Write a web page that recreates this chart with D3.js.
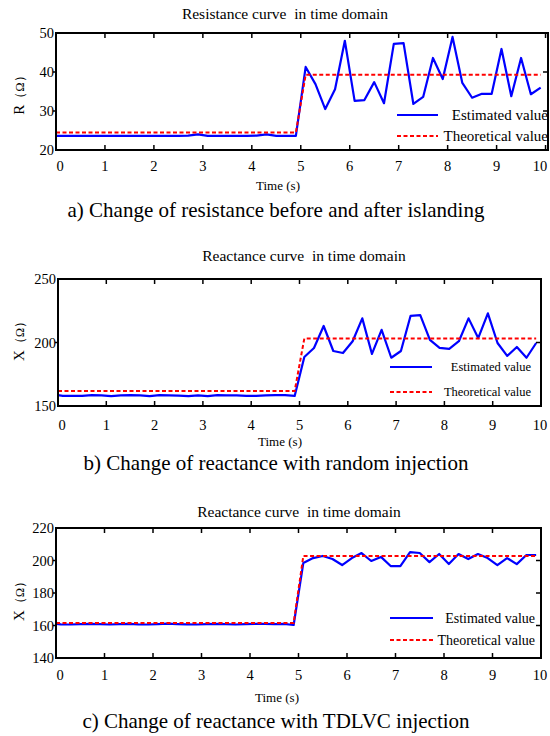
<!DOCTYPE html>
<html><head><meta charset="utf-8">
<script src="https://cdn.jsdelivr.net/npm/d3@7"></script>
<style>body{margin:0;background:#fff}svg{display:block}</style>
</head><body>
<svg id="c" width="550" height="736"></svg>
<script>
// ---------- data ----------
const times = [0,0.1,0.3,0.5,0.7,0.9,1.1,1.3,1.5,1.7,1.9,2.1,2.3,2.5,2.7,2.9,3.1,3.3,3.5,3.7,3.9,4.1,4.3,4.5,4.7,4.9,
  5.1,5.3,5.5,5.7,5.9,6.1,6.3,6.5,6.7,6.9,7.1,7.3,7.5,7.7,7.9,8.1,8.3,8.5,8.7,8.9,9.1,9.3,9.5,9.7,9.9];
const theoTimes = [0,4.9,5.1,9.9];

const resEstimated = [23.6,23.6,23.6,23.6,23.6,23.6,23.6,23.6,23.6,23.6,23.6,23.6,23.6,23.6,23.7,24.0,23.6,23.6,23.6,23.6,23.6,23.7,24.0,23.6,23.6,23.6,
  41.3,36.9,30.5,35.6,48.0,32.6,32.8,37.4,32.0,47.2,47.4,31.8,33.6,43.6,38.2,49.0,37.2,33.4,34.4,34.4,45.9,33.8,43.6,34.3,36.0];
const resTheoretical = [24.5,24.5,39.3,39.3];

const reacRandomEstimated = [158.5,158.0,157.9,158.0,158.6,158.4,157.8,158.3,158.5,158.4,157.8,158.5,158.4,158.2,157.8,158.4,157.8,158.5,158.4,158.3,157.9,157.9,158.4,158.6,158.5,157.9,
  188.6,195.7,213.0,193.3,191.7,201.0,219.0,191.0,210.0,188.0,193.3,221.0,221.6,202.0,195.7,195.0,201.0,219.0,203.5,223.0,199.6,189.4,196.5,188.0,199.6];
const reacRandomTheoretical = [161.8,161.8,203.2,203.2];

const reacTdlvcEstimated = [161.0,160.7,160.6,160.9,161.0,160.8,160.6,160.9,161.0,160.7,160.6,160.9,161.1,160.9,160.7,160.6,160.9,161.0,160.8,160.6,160.8,161.0,161.0,160.9,161.0,160.3,
  198.5,201.5,202.8,200.9,197.2,201.5,204.6,199.7,202.2,196.6,196.6,205.2,204.6,199.0,204.0,197.8,204.0,200.9,204.0,201.5,197.2,201.5,197.8,203.4,203.4];
const reacTdlvcTheoretical = [161.6,161.6,202.8,202.8];

const xTicks = [0,1,2,3,4,5,6,7,8,9,10];
const resTicks = [20,30,40,50];
const reacRandomTicks = [150,200,250];
const reacTdlvcTicks = [140,160,180,200,220];
const legendLabels = ["Estimated value","Theoretical value"];

// ---------- drawing ----------
const svg = d3.select("#c");
const SERIF = "'Liberation Serif','Times New Roman',serif";

const panels = [
  {title:"Resistance curve  in time domain", ylab:"R", est:resEstimated, theo:resTheoretical,
   yDomain:[20,50], yTicks:resTicks, caption:"a) Change of resistance before and after islanding",
   L:56, R:548, xMax:10.05, T:33, B:150, titleX:285, titleY:19, tickY:171, timeX:278, timeY:190, capY:217, ylabY:92,
   leg:{x1:397,x2:438,y1:115,y2:136,tx:548,fs:15}},
  {title:"Reactance curve  in time domain", ylab:"X", est:reacRandomEstimated, theo:reacRandomTheoretical,
   yDomain:[150,250], yTicks:reacRandomTicks, caption:"b) Change of reactance with random injection",
   L:58, R:541, xMax:10, T:279, B:406, titleX:304, titleY:261, tickY:430, timeX:280, timeY:446, capY:470, ylabY:338,
   leg:{x1:390,x2:432,y1:367,y2:392,tx:531,fs:12.5}},
  {title:"Reactance curve  in time domain", ylab:"X", est:reacTdlvcEstimated, theo:reacTdlvcTheoretical,
   yDomain:[140,220], yTicks:reacTdlvcTicks, caption:"c) Change of reactance with TDLVC injection",
   L:56, R:541, xMax:10, T:528, B:658, titleX:299, titleY:517, tickY:680, timeX:277, timeY:702, capY:728, ylabY:598,
   leg:{x1:390,x2:433,y1:618,y2:640,tx:535,fs:14}}
];

panels.forEach(p => {
  const g = svg.append("g");
  const x = d3.scaleLinear().domain([0,p.xMax]).range([p.L,p.R]);
  const y = d3.scaleLinear().domain(p.yDomain).range([p.B,p.T]);

  // title
  g.append("text").attr("x",p.titleX).attr("y",p.titleY).attr("text-anchor","middle")
    .attr("xml:space","preserve")
    .style("font-family",SERIF).style("font-size","15.5px").style("white-space","pre").text(p.title);

  // lines
  const line = d3.line().x(d=>x(d[0])).y(d=>y(d[1]));
  g.append("path").datum(times.map((t,i)=>[t,p.est[i]])).attr("d",line)
    .attr("fill","none").attr("stroke","#0000ff").attr("stroke-width",2.2).attr("stroke-linejoin","round");
  g.append("path").datum(theoTimes.map((t,i)=>[t,p.theo[i]])).attr("d",line)
    .attr("fill","none").attr("stroke","#ff0000").attr("stroke-width",2).attr("stroke-dasharray","4,2.5");

  // frame
  g.append("rect").attr("x",p.L).attr("y",p.T).attr("width",p.R-p.L).attr("height",p.B-p.T)
    .attr("fill","none").attr("stroke","#000").attr("stroke-width",2);

  // x ticks (inward bottom & top)
  const xt = xTicks.filter(v=>v>0 && v<p.xMax && x(v) < p.R-2);
  g.selectAll(null).data(xt).enter().append("line")
    .attr("x1",d=>x(d)).attr("x2",d=>x(d)).attr("y1",p.B).attr("y2",p.B-5).attr("stroke","#000").attr("stroke-width",1.5);
  g.selectAll(null).data(xt).enter().append("line")
    .attr("x1",d=>x(d)).attr("x2",d=>x(d)).attr("y1",p.T).attr("y2",p.T+5).attr("stroke","#000").attr("stroke-width",1.5);
  g.selectAll(null).data(xTicks).enter().append("text")
    .attr("x",d=>{ const v = x(d) + (d===0?4:0); return Math.min(v, 540); })
    .attr("y",p.tickY).attr("text-anchor","middle")
    .style("font-family",SERIF).style("font-size","14.5px").text(d=>d);

  // y ticks
  const yt = p.yTicks.filter(v=>v>p.yDomain[0] && v<p.yDomain[1]);
  g.selectAll(null).data(yt).enter().append("line")
    .attr("x1",p.R).attr("x2",p.R-5).attr("y1",d=>y(d)).attr("y2",d=>y(d)).attr("stroke","#000").attr("stroke-width",1.5);
  g.selectAll(null).data(yt).enter().append("line")
    .attr("x1",p.L).attr("x2",p.L-3).attr("y1",d=>y(d)).attr("y2",d=>y(d)).attr("stroke","#000").attr("stroke-width",1.5);
  g.selectAll(null).data(p.yTicks).enter().append("text")
    .attr("x",p.L-2).attr("y",d=>y(d)+5).attr("text-anchor","end")
    .style("font-family",SERIF).style("font-size","14.5px").text(d=>d);

  // axis labels
  g.append("text").attr("x",p.timeX).attr("y",p.timeY).attr("text-anchor","middle")
    .style("font-family",SERIF).style("font-size","13px").text("Time (s)");
  const yl = g.append("text").attr("transform",`translate(24,${p.ylabY}) rotate(-90)`).attr("text-anchor","middle")
    .style("font-family",SERIF).style("font-size","15px");
  yl.append("tspan").text(p.ylab);
  yl.append("tspan").style("font-size","12.5px").text("（Ω）");

  // legend
  const lg = p.leg;
  g.append("line").attr("x1",lg.x1).attr("x2",lg.x2).attr("y1",lg.y1).attr("y2",lg.y1)
    .attr("stroke","#0000ff").attr("stroke-width",2.2);
  g.append("line").attr("x1",lg.x1).attr("x2",lg.x2).attr("y1",lg.y2).attr("y2",lg.y2)
    .attr("stroke","#ff0000").attr("stroke-width",2).attr("stroke-dasharray","4,2.5");
  g.append("text").attr("x",lg.tx).attr("y",lg.y1+lg.fs*0.33).attr("text-anchor","end")
    .style("font-family",SERIF).style("font-size",lg.fs+"px").text(legendLabels[0]);
  g.append("text").attr("x",lg.tx).attr("y",lg.y2+lg.fs*0.33).attr("text-anchor","end")
    .style("font-family",SERIF).style("font-size",lg.fs+"px").text(legendLabels[1]);

  // caption
  g.append("text").attr("x",276).attr("y",p.capY).attr("text-anchor","middle")
    .style("font-family",SERIF).style("font-size","21px").text(p.caption);
});
</script>
</body></html>
